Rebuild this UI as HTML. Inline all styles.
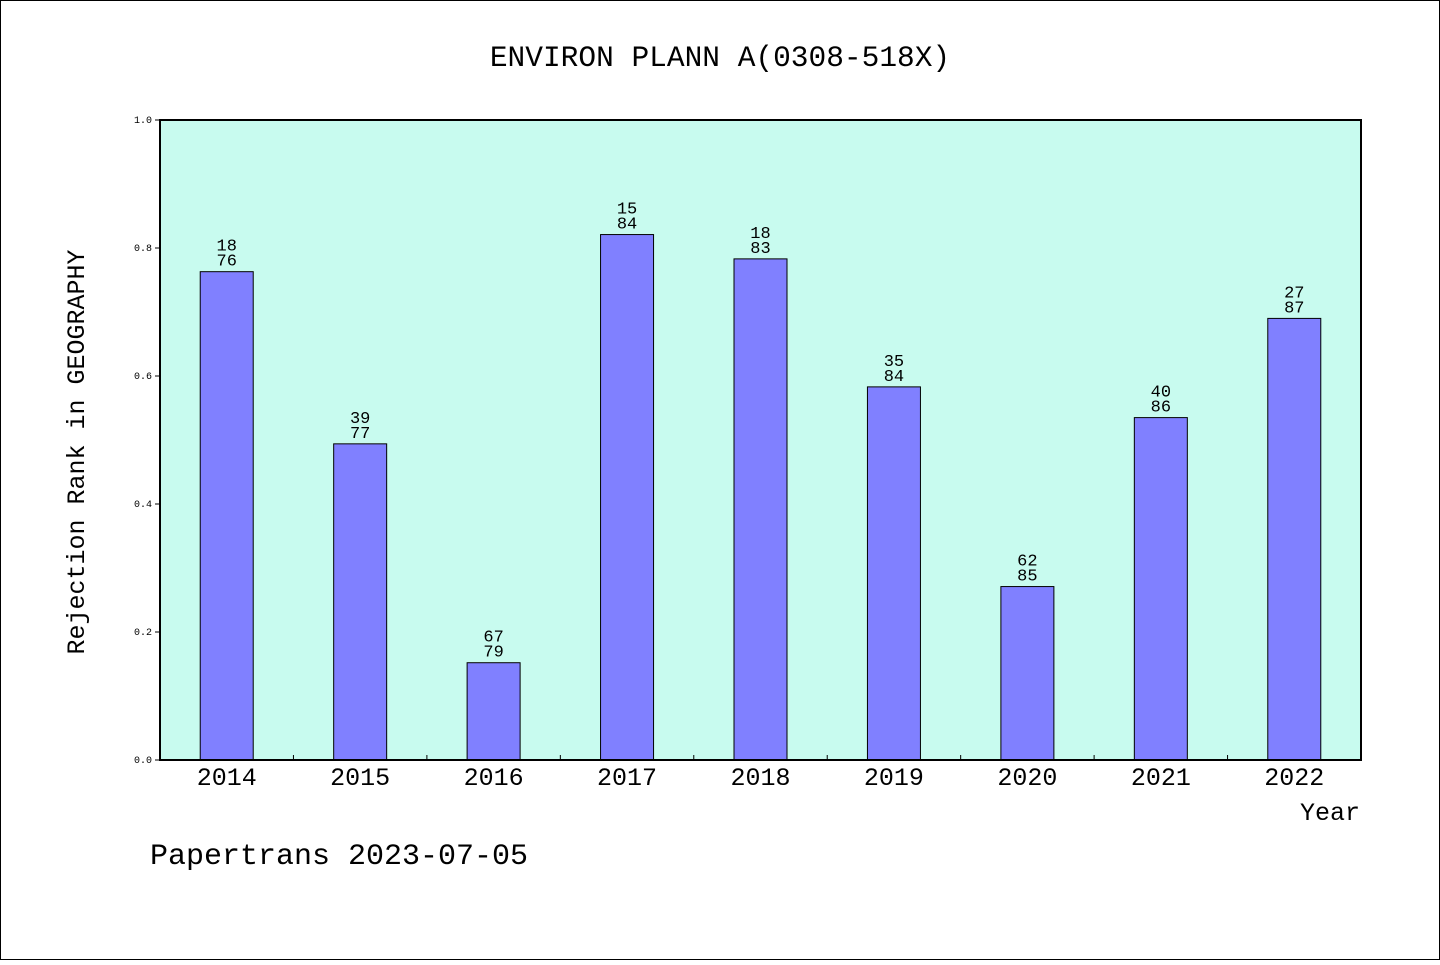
<!DOCTYPE html>
<html><head><meta charset="utf-8"><style>
body{margin:0;background:#fff;}
svg text{font-family:"Liberation Mono","WenQuanYi Zen Hei",monospace;fill:#000;}
</style></head><body>
<svg id="chart" width="1440" height="960" xmlns="http://www.w3.org/2000/svg">
<rect x="0.5" y="0.5" width="1439" height="959" fill="#fff" stroke="#000"/>
<text x="720" y="66" font-size="29.5" text-anchor="middle">ENVIRON PLANN A(0308-518X)</text>
<rect x="160" y="120" width="1201" height="640" fill="#c8fbef"/>
<g id="bars"></g>
<rect x="160" y="120" width="1201" height="640" fill="none" stroke="#000" stroke-width="2"/>
<text transform="translate(84,452) rotate(-90)" font-size="25" text-anchor="middle">Rejection Rank in GEOGRAPHY</text>
<text x="1360" y="820" font-size="25" text-anchor="end">Year</text>
<text x="150" y="864" font-size="30">Papertrans 2023-07-05</text>
</svg>
<script>
const categories=["2014","2015","2016","2017","2018","2019","2020","2021","2022"];
const values=[0.763,0.494,0.152,0.821,0.783,0.583,0.271,0.535,0.690];
const ranks=["18","39","67","15","18","35","62","40","27"];
const totals=["76","77","79","84","83","84","85","86","87"];
const yTicks=["0.0","0.2","0.4","0.6","0.8","1.0"];
const NS="http://www.w3.org/2000/svg";
const L=160,R=1361,T=120,B=760;
const step=(R-L)/categories.length;
const x=i=>L+step*(i+0.5);
const y=v=>B-(v-0)/(1-0)*(B-T);
const g=document.getElementById('bars');
function mk(tag,attrs){const e=document.createElementNS(NS,tag);for(const k in attrs)e.setAttribute(k,attrs[k]);g.appendChild(e);return e;}
yTicks.forEach(t=>{const v=parseFloat(t);
 const l=mk('line',{x1:L-5,x2:L,y1:y(v),y2:y(v),stroke:'#000'});
 
 
 const tx=mk('text',{x:152,y:y(v)+3,'font-size':10,'text-anchor':'end'});tx.textContent=t;
 
 
});
categories.forEach((c,i)=>{
 const bw=53;
 const r=mk('rect',{x:x(i)-bw/2,y:y(values[i]),width:bw,height:B-y(values[i]),fill:'#8080ff',stroke:'#000','stroke-width':1});
 
 
 const t1=mk('text',{x:x(i),y:y(values[i])-21,'font-size':17,'text-anchor':'middle'});t1.textContent=ranks[i];
 
 
 const t2=mk('text',{x:x(i),y:y(values[i])-6,'font-size':17,'text-anchor':'middle'});t2.textContent=totals[i];
 
 
 const xl=mk('text',{x:x(i),y:785,'font-size':25,'text-anchor':'middle'});xl.textContent=c;
 
 
 if(i>0){const tk=mk('line',{x1:L+step*i,x2:L+step*i,y1:B,y2:B-5,stroke:'#000'});
 
 }
});
</script>
</body></html>
